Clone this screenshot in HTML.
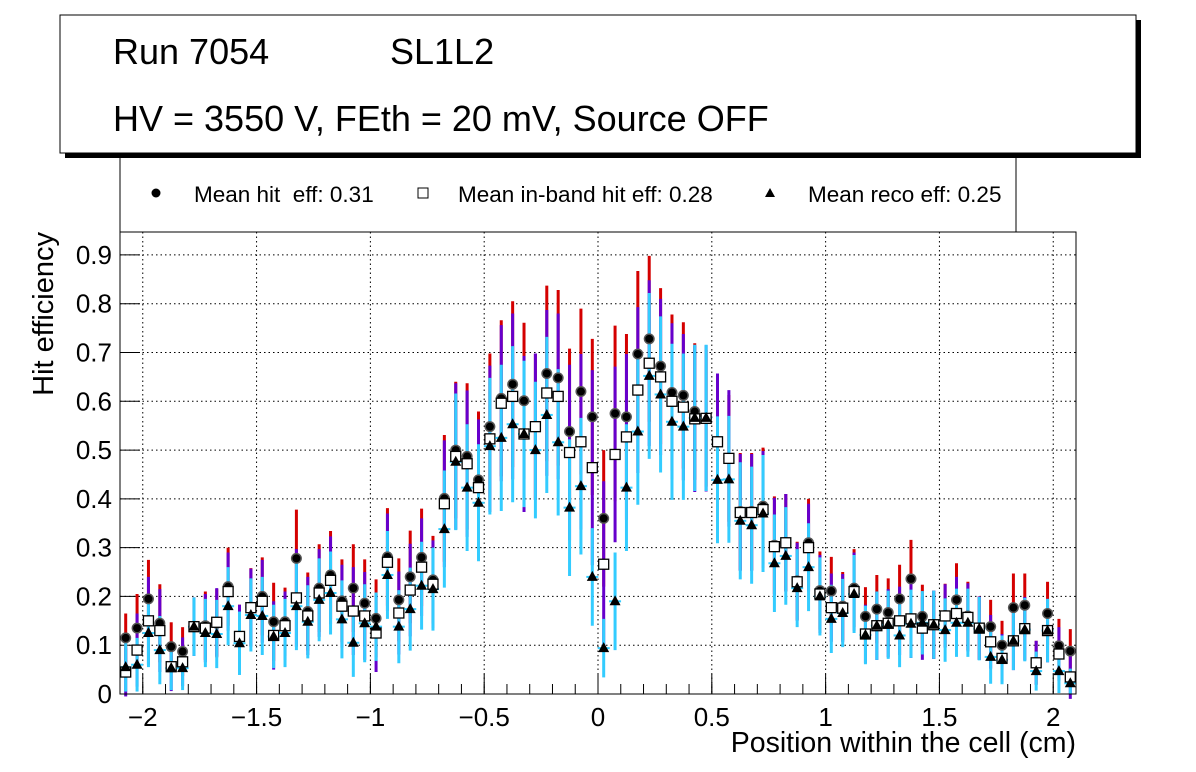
<!DOCTYPE html>
<html><head><meta charset="utf-8"><style>
body{margin:0;background:#fff;}
svg{display:block;font-family:"Liberation Sans",sans-serif;}
text{white-space:pre;}
</style></head><body>
<svg id="chart" width="1196" height="772" viewBox="0 0 1196 772">
<rect x="0" y="0" width="1196" height="772" fill="#fff"/>
<g id="legend">
<rect x="120" y="150" width="896" height="82" fill="#fff" stroke="#000" stroke-width="1"/>
<circle cx="156" cy="193" r="4.5" fill="#000"/>
<text x="194" y="202" font-size="22.5" xml:space="preserve">Mean hit  eff: 0.31</text>
<rect x="418" y="188" width="10" height="10" fill="#fff" stroke="#000"/>
<text x="458" y="202" font-size="22.5">Mean in-band hit eff: 0.28</text>
<path d="M770,188 L775,197 L765,197 Z" fill="#000"/>
<text x="808" y="202" font-size="22.5">Mean reco eff: 0.25</text>
</g>
<g>
<rect x="65" y="20" width="1076" height="138" fill="#000"/>
<rect x="60" y="15" width="1076" height="138" fill="#fff" stroke="#000" stroke-width="1"/>
<text x="113" y="64" font-size="36">Run 7054</text>
<text x="390" y="64" font-size="36">SL1L2</text>
<text x="113" y="131" font-size="36">HV = 3550 V, FEth = 20 mV, Source OFF</text>
</g>
<g id="grid"></g>
<g id="axes"></g>
<g id="marks"></g>
<rect x="120" y="232" width="956" height="462" fill="none" stroke="#000" stroke-width="1"/>
<text x="53" y="232" font-size="29" text-anchor="end" transform="rotate(-90 53 232)">Hit efficiency</text>
<text x="1076" y="752" font-size="28.5" text-anchor="end">Position within the cell (cm)</text>
</svg>
<script>
const xStart = -2.075, xStep = 0.05;
const hitEff = [0.115,0.135,0.195,0.145,0.097,0.087,0.138,0.14,0.145,0.22,0.118,0.178,0.2,0.148,0.148,0.278,0.169,0.217,0.244,0.191,0.217,0.186,0.155,0.281,0.193,0.24,0.28,0.234,0.401,0.5,0.487,0.439,0.548,0.606,0.635,0.601,0.548,0.657,0.648,0.538,0.62,0.568,0.36,0.575,0.568,0.697,0.728,0.672,0.618,0.612,0.579,0.565,0.517,0.483,0.374,0.374,0.385,0.305,0.31,0.232,0.31,0.212,0.211,0.18,0.217,0.159,0.174,0.167,0.195,0.236,0.159,0.142,0.161,0.193,0.16,0.135,0.138,0.1,0.177,0.182,0.064,0.165,0.099,0.088];
const bandEff = [0.045,0.09,0.15,0.13,0.056,0.066,0.138,0.135,0.147,0.21,0.118,0.177,0.19,0.12,0.14,0.197,0.16,0.207,0.233,0.18,0.17,0.16,0.125,0.27,0.166,0.213,0.26,0.225,0.39,0.487,0.472,0.423,0.523,0.596,0.61,0.533,0.548,0.617,0.61,0.495,0.517,0.464,0.266,0.491,0.527,0.623,0.678,0.65,0.6,0.588,0.564,0.565,0.517,0.483,0.372,0.372,0.378,0.302,0.31,0.23,0.3,0.205,0.177,0.176,0.21,0.123,0.14,0.145,0.15,0.154,0.135,0.142,0.16,0.165,0.157,0.135,0.107,0.073,0.109,0.134,0.064,0.13,0.082,0.035];
const recoEff = [0.055,0.06,0.125,0.09,0.053,0.053,0.138,0.125,0.123,0.18,0.104,0.162,0.16,0.118,0.125,0.18,0.148,0.193,0.207,0.153,0.105,0.145,0.138,0.244,0.138,0.174,0.222,0.215,0.338,0.476,0.423,0.392,0.508,0.525,0.553,0.533,0.5,0.572,0.516,0.382,0.426,0.24,0.094,0.19,0.423,0.538,0.652,0.614,0.558,0.548,0.566,0.566,0.439,0.44,0.355,0.346,0.37,0.268,0.283,0.217,0.26,0.2,0.154,0.166,0.205,0.121,0.14,0.142,0.12,0.144,0.146,0.142,0.131,0.146,0.146,0.134,0.076,0.07,0.109,0.132,0.047,0.13,0.047,0.022];
const recoErr = [0.05,0.055,0.07,0.07,0.045,0.045,0.06,0.07,0.07,0.08,0.065,0.075,0.08,0.065,0.07,0.09,0.075,0.085,0.085,0.08,0.07,0.08,0.07,0.09,0.075,0.085,0.09,0.085,0.12,0.14,0.13,0.12,0.14,0.15,0.16,0.15,0.14,0.16,0.15,0.14,0.14,0.1,0.06,0.1,0.13,0.15,0.17,0.16,0.16,0.15,0.15,0.15,0.13,0.13,0.12,0.12,0.12,0.1,0.1,0.08,0.09,0.08,0.07,0.07,0.08,0.06,0.07,0.07,0.065,0.07,0.065,0.07,0.065,0.07,0.07,0.065,0.055,0.05,0.06,0.065,0.04,0.065,0.045,0.03];
const bandErr = [0.05,0.075,0.09,0.085,0.05,0.05,0.06,0.07,0.07,0.08,0.065,0.08,0.085,0.07,0.07,0.1,0.08,0.09,0.09,0.085,0.09,0.09,0.08,0.1,0.085,0.095,0.1,0.09,0.13,0.15,0.15,0.14,0.15,0.16,0.17,0.16,0.15,0.17,0.17,0.18,0.18,0.2,0.17,0.18,0.17,0.17,0.17,0.16,0.16,0.15,0.15,0.15,0.14,0.14,0.12,0.12,0.12,0.1,0.1,0.08,0.09,0.08,0.07,0.07,0.08,0.06,0.07,0.07,0.07,0.08,0.065,0.07,0.065,0.075,0.07,0.065,0.055,0.05,0.06,0.065,0.045,0.065,0.055,0.045];
const hitErr = [0.05,0.07,0.08,0.08,0.05,0.05,0.06,0.07,0.07,0.08,0.065,0.08,0.08,0.08,0.07,0.1,0.08,0.09,0.09,0.085,0.09,0.09,0.08,0.1,0.085,0.095,0.1,0.09,0.13,0.14,0.15,0.14,0.15,0.16,0.17,0.16,0.15,0.18,0.18,0.17,0.17,0.16,0.14,0.18,0.17,0.17,0.17,0.16,0.16,0.15,0.14,0.14,0.13,0.13,0.12,0.12,0.12,0.1,0.1,0.08,0.09,0.08,0.07,0.07,0.08,0.06,0.07,0.07,0.07,0.08,0.065,0.07,0.065,0.075,0.07,0.065,0.055,0.05,0.07,0.065,0.045,0.065,0.055,0.045];
const yTicks = ["0","0.1","0.2","0.3","0.4","0.5","0.6","0.7","0.8","0.9"];
const xTicks = ["\u22122","\u22121.5","\u22121","\u22120.5","0","0.5","1","1.5","2"];
const xTickVals = [-2,-1.5,-1,-0.5,0,0.5,1,1.5,2];

const NS="http://www.w3.org/2000/svg";
const X0=120,X1=1076,Y0=694,Y1=232, XMIN=-2.1,XMAX=2.1,YMIN=0,YMAX=0.947;
const sx=v=>X0+(v-XMIN)/(XMAX-XMIN)*(X1-X0);
const sy=v=>Y0-(v-YMIN)/(YMAX-YMIN)*(Y0-Y1);
function mk(parent,tag,attrs){const e=document.createElementNS(NS,tag);for(const k in attrs)e.setAttribute(k,attrs[k]);parent.appendChild(e);return e;}
const grid=document.getElementById('grid'),axes=document.getElementById('axes'),marks=document.getElementById('marks');
yTicks.forEach((t,i)=>{const v=parseFloat(t);const y=sy(v);
 if(i>0){const g=mk(grid,'line',{x1:X0,x2:X1,y1:y,y2:y,stroke:'#000','stroke-dasharray':'1.5,3','stroke-width':1});
 
 }
 mk(axes,'line',{x1:X0,x2:X0+20,y1:y,y2:y,stroke:'#000'});
 const tx=mk(axes,'text',{x:112,y:y+9,'font-size':26,'text-anchor':'end'});tx.textContent=t;
 
 });
xTickVals.forEach((v,i)=>{const x=sx(v);
 const g=mk(grid,'line',{x1:x,x2:x,y1:Y1,y2:Y0,stroke:'#000','stroke-dasharray':'1.5,3','stroke-width':1});
 
 
 mk(axes,'line',{x1:x,x2:x,y1:Y0,y2:Y0-20,stroke:'#000'});
 const tx=mk(axes,'text',{x:x,y:726,'font-size':26,'text-anchor':'middle'});tx.textContent=xTicks[i];
 
 });
for(let v=-2.1;v<=2.1001;v+=0.1){const x=sx(v);mk(axes,'line',{x1:x,x2:x,y1:Y0,y2:Y0-10,stroke:'#000'});}
hitEff.forEach((h,i)=>{const x=sx(xStart+i*xStep);
 const g=mk(marks,'g',{});
 
 
 mk(g,'line',{x1:x,x2:x,y1:sy(h-hitErr[i]),y2:sy(Math.min(h+hitErr[i],0.947)),stroke:'#d40000','stroke-width':3});
 mk(g,'line',{x1:x,x2:x,y1:sy(bandEff[i]-bandErr[i]),y2:sy(bandEff[i]+bandErr[i]),stroke:'#6600cc','stroke-width':3});
 mk(g,'line',{x1:x,x2:x,y1:sy(Math.max(recoEff[i]-recoErr[i],0)),y2:sy(recoEff[i]+recoErr[i]),stroke:'#33ccff','stroke-width':3});
 mk(g,'line',{x1:x-6,x2:x+6,y1:sy(recoEff[i]),y2:sy(recoEff[i]),stroke:'#33ccff','stroke-width':2});
 mk(g,'circle',{cx:x,cy:sy(h),r:5.5,fill:'#555'});
 mk(g,'circle',{cx:x,cy:sy(h),r:4,fill:'#000'});
 mk(g,'rect',{x:x-5,y:sy(bandEff[i])-5,width:10,height:10,fill:'#fff',stroke:'#000','stroke-width':1.3});
 const ty=sy(recoEff[i]);
 mk(g,'path',{d:`M${x},${ty-6} L${x+5.5},${ty+4} L${x-5.5},${ty+4} Z`,fill:'#000'});
});
</script>
</body></html>
